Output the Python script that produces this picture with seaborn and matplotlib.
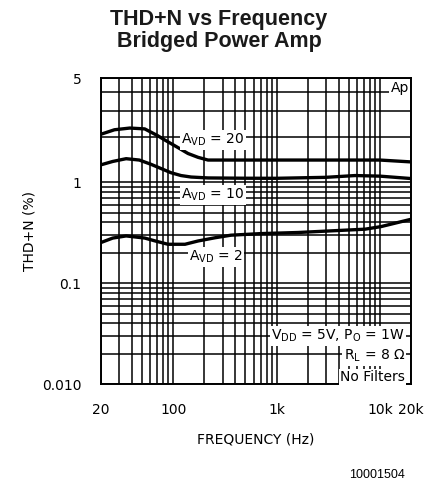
import numpy as np
import pandas as pd
import matplotlib
matplotlib.use("Agg")
import matplotlib.pyplot as plt
import matplotlib.ticker as mticker
import seaborn as sns

# ---- data ----
freq_avd20 = [20, 27, 38, 53, 71, 83, 111, 139, 174, 217, 500, 1000, 5000, 10000, 20000]
thd_avd20 = [2.10, 2.25, 2.31, 2.28, 2.05, 1.92, 1.71, 1.56, 1.47, 1.41, 1.41, 1.41, 1.41, 1.41, 1.37]

freq_avd10 = [20, 26, 35, 47, 61, 95, 119, 149, 217, 500, 1000, 3000, 5750, 10000, 20000]
thd_avd10 = [1.31, 1.38, 1.44, 1.41, 1.32, 1.16, 1.11, 1.085, 1.07, 1.065, 1.064, 1.08, 1.11, 1.10, 1.06]

freq_avd2 = [20, 26, 35, 53, 67, 89, 130, 174, 254, 362, 700, 1615, 7190, 10270, 20000]
thd_avd2 = [0.253, 0.280, 0.294, 0.280, 0.262, 0.243, 0.243, 0.262, 0.282, 0.299, 0.310, 0.318, 0.343, 0.364, 0.43]

x_ticks = [20, 100, 1000, 10000, 20000]
x_tick_labels = ["20", "100", "1k", "10k", "20k"]
y_ticks = [0.01, 0.1, 1, 5]
y_tick_labels = ["0.010", "0.1", "1", "5"]

df = pd.concat([
    pd.DataFrame({"f": freq_avd20, "thd": thd_avd20, "s": "20"}),
    pd.DataFrame({"f": freq_avd10, "thd": thd_avd10, "s": "10"}),
    pd.DataFrame({"f": freq_avd2, "thd": thd_avd2, "s": "2"}),
])

sns.set_style("white")
plt.rcParams["font.family"] = ["DejaVu Sans"]
plt.rcParams["mathtext.default"] = "regular"
plt.rcParams["text.color"] = "black"
plt.rcParams["axes.labelcolor"] = "black"
plt.rcParams["xtick.color"] = "black"
plt.rcParams["ytick.color"] = "black"

fig = plt.figure(figsize=(4.28, 4.84), dpi=100)
ax = fig.add_axes([101/428, 1-384/484, 310/428, 306/484])

# reference y axis: log below 1, stretched log above 1
K = 1.48
def fwd(y):
    y = np.clip(np.asarray(y, dtype=float), 1e-6, None)
    l = np.log10(y)
    return np.where(l <= 0, l, K*l)
def inv(u):
    u = np.asarray(u, dtype=float)
    return np.where(u <= 0, 10**u, 10**(u/K))

ax.set_xscale("log")
ax.set_yscale("function", functions=(fwd, inv))

sns.lineplot(data=df, x="f", y="thd", units="s", estimator=None, sort=False,
             color="black", lw=2.4, ax=ax, legend=False)

ax.set_xlim(20, 20000)
ax.set_ylim(0.01, 5)

ax.xaxis.set_major_locator(mticker.FixedLocator(x_ticks))
ax.xaxis.set_major_formatter(mticker.FixedFormatter(x_tick_labels))
xminor = [m*10**e for e in range(1, 4) for m in range(2, 10) if 20 < m*10**e < 20000]
ax.xaxis.set_minor_locator(mticker.FixedLocator(xminor))
ax.xaxis.set_minor_formatter(mticker.NullFormatter())

ax.yaxis.set_major_locator(mticker.FixedLocator(y_ticks))
ax.yaxis.set_major_formatter(mticker.FixedFormatter(y_tick_labels))
yminor = [m*10**e for e in (-2, -1) for m in range(2, 10)] + [2, 3, 4]
ax.yaxis.set_minor_locator(mticker.FixedLocator(yminor))
ax.yaxis.set_minor_formatter(mticker.NullFormatter())

ax.grid(True, which="both", color="black", lw=1.1)
ax.set_axisbelow(True)
for s in ax.spines.values():
    s.set_color("black")
    s.set_linewidth(1.4)
ax.tick_params(which="both", length=0)
ax.tick_params(axis="x", pad=14, labelsize=10)
ax.tick_params(axis="y", pad=14, labelsize=10)

ax.set_xlabel("FREQUENCY (Hz)", fontsize=10, labelpad=11)
ax.set_ylabel("THD+N (%)", fontsize=10, labelpad=4)

fig.text(219/428, 1-19/484, "THD+N vs Frequency", ha="center", va="center",
         fontsize=15.5, fontweight="bold", family="Liberation Sans", color="#1a1a1a")
fig.text(219/428, 1-42/484, "Bridged Power Amp", ha="center", va="center",
         fontsize=15.5, fontweight="bold", family="Liberation Sans", color="#1a1a1a")
fig.text(405/428, 1-475/484, "10001504", ha="right", va="center",
         fontsize=9, family="Liberation Sans")

box = dict(facecolor="white", edgecolor="none", pad=1.0)
def atext(xp, yp, s, ha="left"):
    ax.text(xp/428, 1-yp/484, s, transform=fig.transFigure, ha=ha, va="center",
            fontsize=10, bbox=box)

atext(409, 88, "Ap", ha="right")
atext(181, 140, "$A_{VD}$ = 20")
atext(181, 195, "$A_{VD}$ = 10")
atext(189, 257, "$A_{VD}$ = 2")
atext(405, 336, "$V_{DD}$ = 5V, $P_O$ = 1W", ha="right")
atext(405, 356, "$R_L$ = 8 Ω", ha="right")
atext(405, 377, "No Filters", ha="right")

fig.savefig("out.png", dpi=100)
